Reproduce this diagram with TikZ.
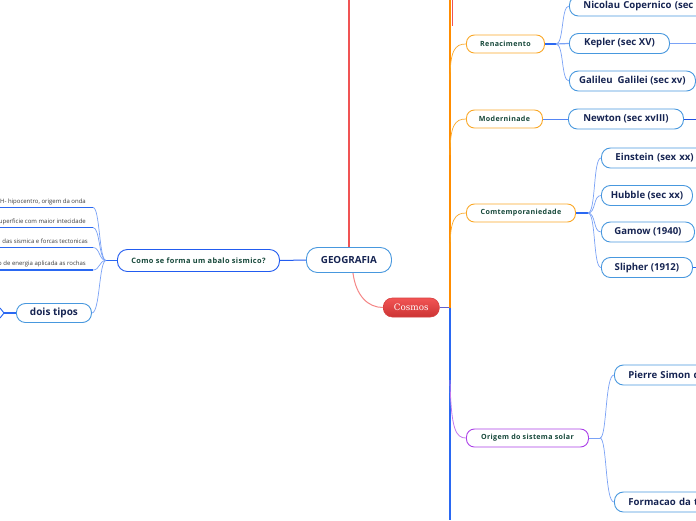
\documentclass[tikz,border=0pt]{standalone}
\usepackage{fontspec}
\setsansfont{Open Sans}
\newfontfamily\spfont[LetterSpace=5]{Open Sans}
\newfontfamily\cosmosfont{DejaVu Serif}
\definecolor{nodeblue}{RGB}{72,152,222}
\definecolor{navy}{RGB}{22,36,82}
\definecolor{dkgreen}{RGB}{22,72,58}
\definecolor{orangeb}{RGB}{250,168,40}
\definecolor{orangel}{RGB}{255,140,0}
\definecolor{purpleb}{RGB}{172,64,232}
\definecolor{comob}{RGB}{34,92,240}
\definecolor{redl}{RGB}{240,84,84}
\definecolor{bluethk}{RGB}{42,104,242}
\definecolor{bluethn}{RGB}{122,162,246}
\definecolor{bluedark}{RGB}{30,80,226}
\definecolor{trunkpur}{RGB}{96,96,206}
\definecolor{leafgray}{RGB}{60,60,60}
\tikzset{
  tb/.style={draw=nodeblue, line width=0.9pt, fill=white, rounded corners=9pt, anchor=west,
    inner xsep=0pt, inner ysep=0pt, minimum height=20pt, text=navy,
    font=\sffamily\bfseries\fontsize{9.6}{11}\selectfont},
  tbcut/.style={tb, align=left, inner xsep=14pt, text width=#1},
  catbox/.style={draw=orangeb, line width=0.9pt, fill=white, rounded corners=8pt, anchor=west,
    inner xsep=0pt, inner ysep=0pt, minimum height=18pt, text=dkgreen,
    font=\spfont\bfseries\fontsize{7.1}{8}\selectfont},
  leaftext/.style={anchor=base east, inner sep=0pt, text=leafgray,
    font=\sffamily\fontsize{6}{7}\selectfont},
  thickblue/.style={draw=bluethk, line width=1.8pt},
  thinblue/.style={draw=bluethn, line width=0.7pt},
  orangecurve/.style={draw=orangeb, line width=0.7pt},
}
\begin{document}
\begin{tikzpicture}[x=1pt,y=-1pt]
\useasboundingbox (0,0) rectangle (696,520);
\clip (0,0) rectangle (696,520);
\fill[white] (0,0) rectangle (696,520);

% ---------- central nodes ----------
\node[tb, minimum width=85pt, minimum height=25pt, rounded corners=11pt,
      font=\sffamily\bfseries\fontsize{9.8}{11}\selectfont] (geo) at (306,260) {GEOGRAFIA};
\node[anchor=west, minimum width=56pt, minimum height=19pt, inner sep=0pt, rounded corners=9pt,
      top color={rgb,255:red,242;green,84;blue,84}, bottom color={rgb,255:red,204;green,52;blue,52},
      draw={rgb,255:red,214;green,64;blue,64}, line width=0.6pt, text=white,
      font=\cosmosfont\fontsize{8.8}{10}\selectfont] (cosmos) at (383,307.5) {Cosmos};

% ---------- right side categories ----------
\node[catbox, minimum width=78pt] (ren) at (466,44) {Renacimento};
\node[catbox, minimum width=76pt] (mod) at (466,119) {Moderninade};
\node[catbox, minimum width=109pt] (cont) at (466,213) {Comtemporaniedade};
\node[catbox, draw=purpleb, minimum width=122pt] (orig) at (466,438) {Origem do sistema solar};

% ---------- right side topics ----------
\node[tbcut=150pt] (nic) at (569,6) {Nicolau Copernico (sec};
\node[tb, minimum width=100pt] (kep) at (569,43.5) {Kepler (sec XV)};
\node[tb, minimum width=126pt] (gal) at (569,81) {Galileu\ \ Galilei (sec xv)};
\node[tb, minimum width=115pt] (new) at (568,119) {Newton (sec xvIII)};
\node[tbcut=150pt] (ein) at (601,158) {Einstein (sex xx)};
\node[tb, minimum width=91pt] (hub) at (601,195.5) {Hubble (sec xx)};
\node[tb, minimum width=93pt] (gam) at (601,232) {Gamow (1940)};
\node[tb, minimum width=91pt] (sli) at (601,267.5) {Slipher (1912)};
\node[tbcut=150pt] (pie) at (614,375) {Pierre Simon d};
\node[tbcut=150pt] (for) at (614,502) {Formacao da t};

% ---------- left side ----------
\node[tb, draw=comob, minimum width=162pt, minimum height=22pt, rounded corners=10pt, text=dkgreen,
      font=\spfont\bfseries\fontsize{7.4}{9}\selectfont] (como) at (117,260.5) {Como se forma um abalo sismico?};
\node[tb, minimum width=75pt, minimum height=19pt, font=\sffamily\bfseries\fontsize{10}{12}\selectfont] (dois) at (16,313) {dois tipos};

\node[leaftext] (l1) at (86,203) {H- hipocentro, origem da onda};
\node[leaftext] (l2) at (86,223.5) {superficie com maior intecidade};
\node[leaftext] (l3) at (88,243.5) {das sismica e forcas tectonicas};
\node[leaftext] (l4) at (86,265.5) {o de energia aplicada as rochas};

\coordinate (u1) at (93,207.5);
\coordinate (u2) at (93,227.5);
\coordinate (u3) at (93,247.5);
\coordinate (u4) at (93,270);
\coordinate (u1l) at (0,207.5);
\coordinate (u2l) at (0,227.5);
\coordinate (u3l) at (0,247.5);
\coordinate (u4l) at (0,270);
\coordinate (cfork) at (106,260.5);

% ---------- free ends ----------
\coordinate (topgeo) at (349,0);
\coordinate (trunk) at (450,307.5);
\coordinate (trunktop) at (450,0);
\coordinate (trunkbot) at (450,520);
\coordinate (rfork) at (556,44);
\coordinate (cfork2) at (588,213);
\coordinate (ofork) at (600,438);
\coordinate (keprt) at (696,43.5);
\coordinate (newrt) at (696,119);
\coordinate (slirt) at (696,267.5);
\coordinate (doisl) at (4,313);

% ---------- connectors: centre ----------
\draw[redl, line width=1.6pt] (geo.north) -- (geo.north |- topgeo);
\draw[redl!70, line width=1pt] ([xshift=4pt]geo.south) .. controls (356,296) and (368,307.5) .. (cosmos.west);
\draw[trunkpur, line width=1.6pt] (cosmos.east) -- (trunk);
\draw[orangel, line width=1.6pt] (trunk) -- (trunktop);
\draw[redl, line width=0.8pt] (452,0) -- (452,26);
\draw[bluethk, line width=1.6pt] (trunk) -- (trunkbot);

\draw[orangecurve] (450,80) .. controls (450,50) and (455,44) .. (ren.west);
\draw[orangecurve] (450,155) .. controls (450,125) and (455,119) .. (mod.west);
\draw[orangecurve] (450,250) .. controls (450,219) and (455,213) .. (cont.west);
\draw[purpleb!70, line width=0.8pt] (450,380) .. controls (451,430) and (456,438) .. (orig.west);

% ---------- Renacimento ----------
\draw[thickblue, line width=1.4pt] (ren.east) -- (rfork);
\draw[thinblue] (rfork) .. controls (564,44) and (561,6) .. (nic.west);
\draw[thinblue, line width=1.2pt] (rfork) -- (kep.west);
\draw[thinblue] (rfork) .. controls (564,44) and (561,81) .. (gal.west);
\draw[bluethn, line width=1.8pt] (kep.east) -- (keprt);

% ---------- Moderninade ----------
\draw[thinblue, draw=bluethk!80] (mod.east) -- (new.west);
\draw[bluedark, line width=0.9pt] (new.east) -- (newrt);

% ---------- Contemporaneidade ----------
\draw[thickblue, line width=1.4pt] (cont.east) -- (cfork2);
\draw[thinblue] (cfork2) .. controls (596,213) and (593,158) .. (ein.west);
\draw[thinblue] (cfork2) .. controls (596,213) and (593,195.5) .. (hub.west);
\draw[thinblue] (cfork2) .. controls (596,213) and (593,232) .. (gam.west);
\draw[thinblue] (cfork2) .. controls (596,213) and (593,267.5) .. (sli.west);
\draw[bluethk, line width=0.8pt] (sli.east) -- (slirt);

% ---------- Origem ----------
\draw[thinblue] (orig.east) -- (ofork);
\draw[thinblue] (ofork) .. controls (607,438) and (605,375) .. (pie.west);
\draw[thinblue] (ofork) .. controls (607,438) and (605,502) .. (for.west);

% ---------- left side ----------
\draw[comob, line width=1pt] (geo.west) -- (como.east);
\draw[thickblue, line width=1.4pt] (como.west) -- (cfork);
\draw[thinblue] (cfork) .. controls (99,260.5) and (100,207.5) .. (u1);
\draw[thinblue] (cfork) .. controls (99,260.5) and (100,227.5) .. (u2);
\draw[thinblue] (cfork) .. controls (99,260.5) and (100,247.5) .. (u3);
\draw[thinblue] (cfork) .. controls (99,260.5) and (100,270) .. (u4);
\draw[thinblue] (cfork) .. controls (99,260.5) and (100,313) .. (dois.east);
\draw[bluethk, line width=1.8pt] (u1) -- (u1l);
\draw[bluethk, line width=1.8pt] (u2) -- (u2l);
\draw[bluethk, line width=1.8pt] (u3) -- (u3l);
\draw[bluethk, line width=1.8pt] (u4) -- (u4l);
\draw[bluethk, line width=1.6pt] (dois.west) -- (doisl);
\draw[bluethk, line width=1pt] (0,308) -- (doisl) -- (0,318);
\end{tikzpicture}
\end{document}
